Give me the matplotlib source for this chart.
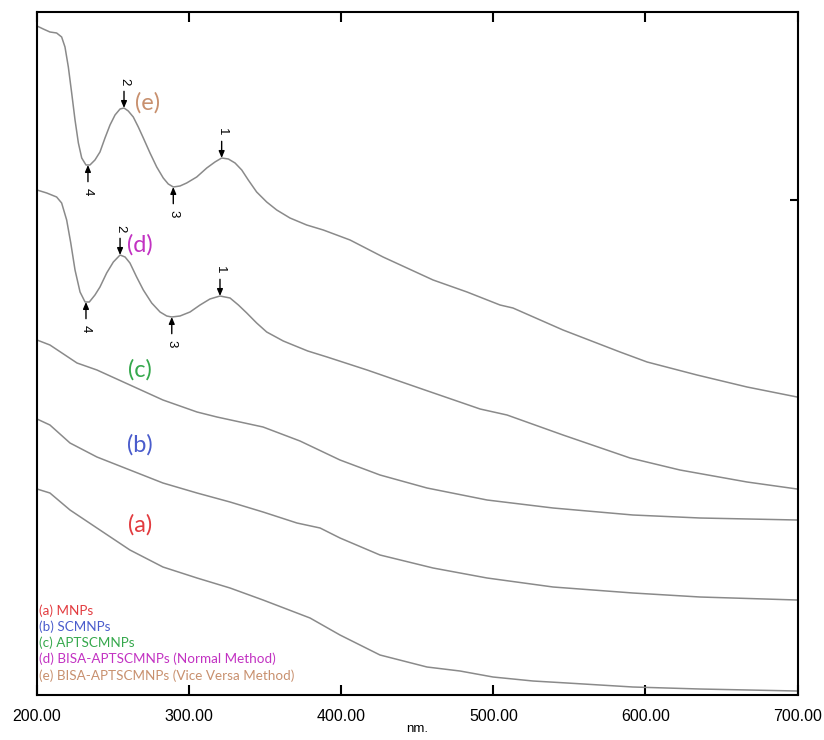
import matplotlib.pyplot as plt

# UV-Vis spectra, absorbance with vertical offsets
wl_a = [200, 208.5, 221.7, 239.4, 261.1, 282.8, 305.2, 326.9, 348.6, 379.5, 399.2,
        425.5, 456.4, 478.1, 499.8, 526.1, 548.5, 591.8, 635.9, 699.7]
abs_a = [2.06, 2.02, 1.85, 1.67, 1.45, 1.28, 1.17, 1.07, 0.95, 0.77, 0.60,
         0.40, 0.28, 0.24, 0.18, 0.14, 0.12, 0.08, 0.06, 0.04]

wl_b = [200, 208.5, 221.7, 239.4, 261.1, 282.8, 305.2, 326.9, 348.6, 370.9, 386.1,
        399.2, 425.5, 460.4, 495.9, 539.3, 591.8, 635.9, 699.7]
abs_b = [2.76, 2.70, 2.52, 2.38, 2.25, 2.12, 2.02, 1.93, 1.83, 1.72, 1.67,
         1.57, 1.40, 1.27, 1.17, 1.08, 1.02, 0.98, 0.95]

wl_c = [200, 208.5, 226.3, 239.4, 261.1, 282.8, 305.2, 318.3, 348.6, 372.9, 399.2,
        425.5, 456.4, 495.9, 539.3, 591.8, 635.9, 699.7]
abs_c = [3.55, 3.50, 3.32, 3.25, 3.10, 2.95, 2.83, 2.78, 2.68, 2.54, 2.35,
         2.20, 2.07, 1.95, 1.87, 1.80, 1.77, 1.75]

wl_d = [200, 206.4, 212.9, 216.2, 219.5, 222.2, 225.0, 228.3, 231.6, 234.4, 238.1,
        241.4, 245.8, 250.2, 254.6, 257.9, 261.1, 265.5, 269.9, 275.4, 280.9,
        285.3, 288.6, 294.0, 300.6, 307.2, 313.7, 320.3, 326.9, 332.4, 337.9,
        344.4, 351.0, 361.9, 368.3, 378.0, 390.7, 417.0, 455.0, 491.3, 509.0,
        545.8, 589.9, 622.7, 666.8, 699.7]
abs_d = [5.05, 5.02, 4.98, 4.92, 4.75, 4.52, 4.25, 4.03, 3.93, 3.93, 4.00,
         4.08, 4.22, 4.33, 4.40, 4.38, 4.32, 4.18, 4.05, 3.92, 3.83,
         3.79, 3.78, 3.79, 3.83, 3.90, 3.96, 3.99, 3.97, 3.90, 3.82,
         3.72, 3.63, 3.54, 3.50, 3.44, 3.38, 3.25, 3.05, 2.86, 2.80,
         2.60, 2.37, 2.25, 2.13, 2.06]

wl_e = [200, 204.1, 208.5, 212.9, 216.2, 218.4, 220.6, 222.8, 225.0, 227.2, 229.4,
        232.2, 234.8, 238.1, 241.4, 244.7, 248.0, 251.3, 254.6, 257.2, 260.0,
        263.3, 266.6, 269.9, 274.3, 278.7, 283.0, 286.3, 289.6, 294.0, 298.4,
        305.0, 311.6, 317.0, 321.4, 325.8, 330.2, 334.6, 338.9, 344.4, 351.0,
        357.6, 366.3, 377.3, 388.2, 405.8, 427.5, 460.4, 482.7, 504.4, 512.9,
        545.8, 583.3, 601.1, 633.9, 666.8, 699.7]
abs_e = [6.69, 6.66, 6.63, 6.62, 6.58, 6.48, 6.28, 6.02, 5.75, 5.52, 5.37,
         5.30, 5.30, 5.35, 5.43, 5.57, 5.70, 5.80, 5.86, 5.87, 5.84,
         5.78, 5.68, 5.57, 5.42, 5.28, 5.17, 5.11, 5.08, 5.09, 5.12,
         5.18, 5.27, 5.33, 5.37, 5.36, 5.32, 5.25, 5.15, 5.03, 4.93,
         4.85, 4.77, 4.70, 4.65, 4.55, 4.38, 4.15, 4.03, 3.90, 3.87,
         3.65, 3.43, 3.33, 3.20, 3.08, 2.98]

# peak picks: (number, wavelength, absorbance, is_peak)
picks_d = [("1", 320.3, 3.99, True), ("2", 254.6, 4.40, True),
           ("3", 288.6, 3.78, False), ("4", 232.2, 3.93, False)]
picks_e = [("1", 321.4, 5.37, True), ("2", 257.2, 5.87, True),
           ("3", 289.6, 5.08, False), ("4", 233.5, 5.30, False)]

names = ["(a) MNPs", "(b) SCMNPs", "(c) APTSCMNPs",
         "(d) BISA-APTSCMNPs (Normal Method)",
         "(e) BISA-APTSCMNPs (Vice Versa Method)"]
colors = ["#e23b3f", "#4a5ccc", "#35a84c", "#c232c2", "#c8906e"]
tags = ["(a)", "(b)", "(c)", "(d)", "(e)"]
tag_pos = [(267.5, 1.70), (267.5, 2.50), (267.5, 3.25), (267.5, 4.50), (273, 5.92)]

x_ticks = [200, 300, 400, 500, 600, 700]
x_tick_labels = ["200.00", "300.00", "400.00", "500.00", "600.00", "700.00"]


def plot_picks(ax, picks):
    for num, x, y, is_peak in picks:
        off = 12 if is_peak else -12
        ax.annotate("", xy=(x, y), xytext=(0, off), textcoords="offset points",
                    arrowprops=dict(arrowstyle="-|>,head_length=0.4,head_width=0.17",
                                    color="black", lw=1.0, shrinkA=0, shrinkB=0))
        ax.annotate(num, xy=(x, y), xytext=(0, 19 if is_peak else -19),
                    textcoords="offset points", ha="center", va="center",
                    rotation=-90, fontsize=9.5, family="Liberation Sans")


def main():
    fig = plt.figure(figsize=(8.24, 7.40), dpi=100)
    ax = fig.add_axes([0.0449, 0.0608, 0.923, 0.923])

    for wl, ab in [(wl_a, abs_a), (wl_b, abs_b), (wl_c, abs_c), (wl_d, abs_d), (wl_e, abs_e)]:
        ax.plot(wl, ab, color="#8a8a8a", lw=1.1, solid_joinstyle="round")

    plot_picks(ax, picks_d)
    plot_picks(ax, picks_e)

    for tag, (x, y), c in zip(tags, tag_pos, colors):
        ax.text(x, y, tag, color=c, fontsize=17, family="Lato", ha="center", va="center")

    for i, (name, c) in enumerate(zip(names, colors)):
        ax.text(0.003, 0.124 - i * 0.0238, name, color=c, fontsize=9.7, family="Lato",
                transform=ax.transAxes, ha="left", va="center")

    ax.set_xlim(200, 700)
    ax.set_ylim(0, 6.83)
    ax.set_xticks(x_ticks)
    ax.set_xticklabels(x_tick_labels, family="Liberation Sans", fontsize=11.5)
    ax.tick_params(axis="x", direction="in", length=7, width=1.5, top=True, pad=10)
    ax.set_yticks([4.95])
    ax.tick_params(axis="y", direction="in", length=6, width=1.5, left=False,
                   right=True, labelleft=False)
    for s in ax.spines.values():
        s.set_linewidth(1.5)
    ax.set_xlabel("nm.", family="Liberation Sans", fontsize=9.5, labelpad=-1)

    fig.savefig("out.png", dpi=100)


if __name__ == "__main__":
    main()
